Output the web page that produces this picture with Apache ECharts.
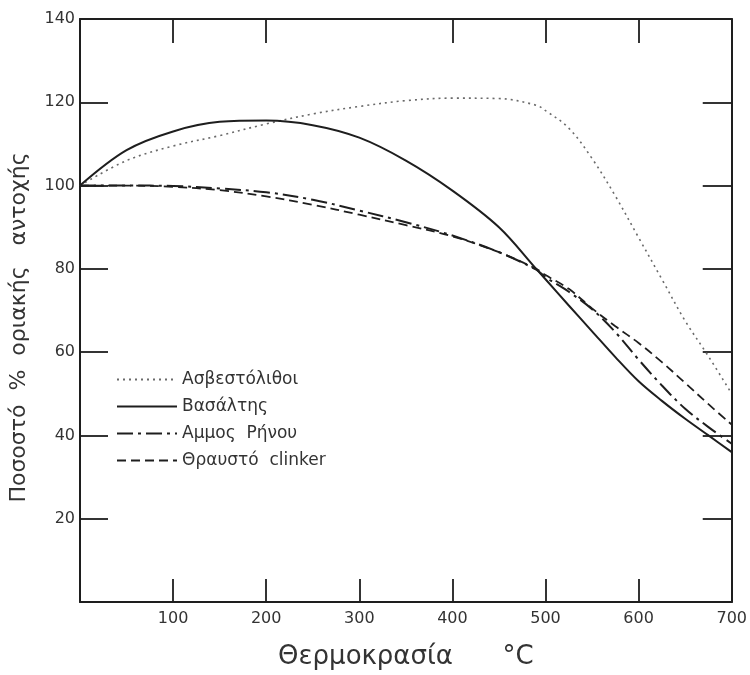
<!DOCTYPE html>
<html>
<head>
<meta charset="utf-8">
<script src="https://cdn.jsdelivr.net/npm/echarts@6/dist/echarts.min.js"></script>
<style>
  html, body { margin: 0; padding: 0; background: #fff; }
  #chart { width: 750px; height: 675px; }
</style>
</head>
<body>
<div id="chart"></div>
<script>
// Temperature (°C) against percentage of ultimate strength
const temps = [0, 50, 100, 150, 200, 250, 300, 350, 400, 450, 490, 500, 525, 550, 575, 600, 625, 650, 675, 700];

const seriesNames = ['Ασβεστόλιθοι', 'Βασάλτης', 'Αμμος  Ρήνου', 'Θραυστό  clinker'];

const limestone = [100, 106, 109.5, 112, 114.8, 117.2, 119, 120.4, 121, 120.9, 119.3, 118, 113.8, 106.5, 97.5, 87.5, 77.5, 67.5, 59, 50];
const basalt    = [100, 108.5, 113, 115.3, 115.6, 114.5, 111.5, 106, 98.8, 90, 80, 77.5, 71.2, 65, 58.8, 53, 48.3, 44, 40, 36];
const rhineSand = [100, 100, 99.9, 99.3, 98.4, 96.6, 94, 91.2, 88, 84, 79.8, 78, 74.5, 70.3, 64.8, 58.2, 52, 46.4, 42, 38];
const clinker   = [100, 100, 99.7, 98.9, 97.4, 95.4, 93, 90.5, 87.8, 84, 80, 78.5, 75.2, 70.5, 66.2, 62.2, 57.6, 52.6, 47.5, 42.6];

const xTicks = [100, 200, 300, 400, 500, 600, 700];
const xTopTicks = [100, 200, 400, 500, 600];
const yTicks = [20, 40, 60, 80, 100, 120, 140];
const ySideTicks = [20, 40, 60, 80, 100, 120];

const ink = '#1e1e1e';
const font = '"DejaVu Sans", "Liberation Sans", sans-serif';

function pairs(ys) { return temps.map((t, i) => [t, ys[i]]); }

const styles = [
  { type: [2, 4], width: 1.6, color: '#6a6a6a' },
  { type: 'solid', width: 2, color: ink },
  { type: [16, 5, 3, 5], width: 2, color: ink },
  { type: [9, 5], width: 1.8, color: ink }
];
const dataSets = [limestone, basalt, rhineSand, clinker];

const chart = echarts.init(document.getElementById('chart'), null, { renderer: 'canvas' });

const tickLabel = { color: '#333', fontFamily: font, fontSize: 16 };
const frameLine = { onZero: false, lineStyle: { color: ink, width: 2 } };

chart.setOption({
  animation: false,
  backgroundColor: '#fff',
  grid: { left: 75, right: 13, top: 19, bottom: 62, containLabel: false },
  legend: {
    orient: 'vertical',
    left: 111, top: 366,
    itemWidth: 60, itemHeight: 12, itemGap: 10,
    itemStyle: { opacity: 0 },
    textStyle: { color: '#333', fontFamily: font, fontSize: 17 },
    data: seriesNames
  },
  xAxis: [{
    type: 'value', min: 0, max: 700, interval: 100, position: 'bottom',
    name: 'Θερμοκρασία      °C', nameLocation: 'middle', nameGap: 42,
    nameTextStyle: { color: '#333', fontFamily: font, fontSize: 26 },
    axisLine: frameLine,
    axisTick: { inside: true, length: 23, lineStyle: { color: ink, width: 1.8 } },
    axisLabel: Object.assign({ margin: 9, formatter: v => xTicks.includes(v) ? String(v) : '' }, tickLabel),
    splitLine: { show: false }
  }, {
    type: 'value', min: 0, max: 700, interval: 100, position: 'top',
    axisLine: frameLine,
    axisTick: { inside: true, length: 24, customValues: xTopTicks, lineStyle: { color: ink, width: 1.8 } },
    axisLabel: { show: false },
    splitLine: { show: false }
  }],
  yAxis: [{
    type: 'value', min: 0, max: 140, interval: 20, position: 'left',
    name: 'Ποσοστό  %  οριακής   αντοχής', nameLocation: 'middle', nameGap: 50,
    nameTextStyle: { color: '#333', fontFamily: font, fontSize: 22, padding: [0, 34, 0, 0] },
    axisLine: frameLine,
    axisTick: { inside: true, length: 28, customValues: ySideTicks, lineStyle: { color: ink, width: 1.8 } },
    axisLabel: Object.assign({ margin: 5, formatter: v => yTicks.includes(v) ? String(v) : '' }, tickLabel),
    splitLine: { show: false }
  }, {
    type: 'value', min: 0, max: 140, interval: 20, position: 'right',
    axisLine: frameLine,
    axisTick: { inside: true, length: 29, customValues: ySideTicks, lineStyle: { color: ink, width: 1.8 } },
    axisLabel: { show: false },
    splitLine: { show: false }
  }],
  series: seriesNames.map((name, i) => ({
    name, type: 'line', xAxisIndex: 0, yAxisIndex: 0,
    data: pairs(dataSets[i]),
    smooth: 0.35, symbol: 'none', showSymbol: false,
    lineStyle: styles[i], itemStyle: { color: styles[i].color },
    z: 3
  }))
});
</script>
</body>
</html>
